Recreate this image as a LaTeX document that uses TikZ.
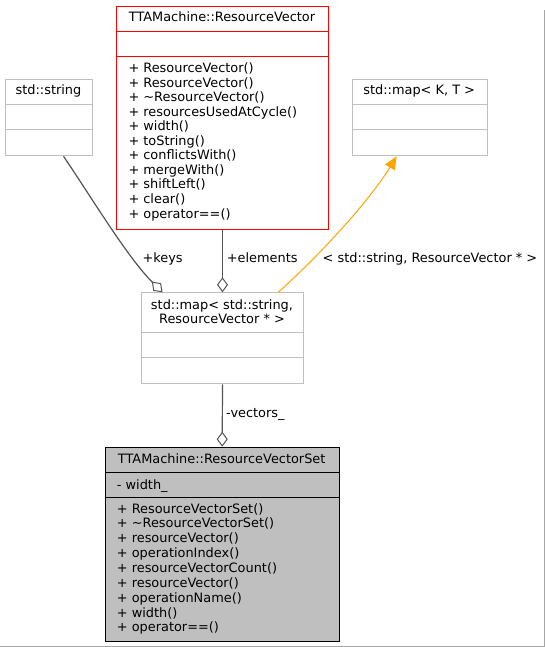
\documentclass[tikz,border=0pt]{standalone}
\usepackage{fontspec}
\setmainfont{DejaVu Sans}
\usetikzlibrary{arrows.meta,calc}
\definecolor{boxgray}{HTML}{BFBFBF}
\definecolor{edgegray}{HTML}{555555}
\definecolor{inherit}{HTML}{FFA500}
\tikzset{
  txt/.style={font=\fontsize{12.9}{14.6}\selectfont, inner sep=0pt},
  graybox/.style={draw=boxgray, line width=1pt, fill=white, inner sep=0pt, anchor=north west},
  sep/.style={draw=boxgray, line width=1pt},
  aggr/.style={draw=edgegray, line width=1.2pt, -{Diamond[open,fill=white,length=15pt,width=11pt,line width=1pt]}},
}

\begin{document}
\begin{tikzpicture}[x=1pt,y=-1pt]
  \useasboundingbox (0,0) rectangle (545,647);
  \fill[white] (0,0) rectangle (545,647);
  \draw[gray!70, line width=1pt] (544.5,10) -- (544.5,646.5) -- (0,646.5);

  % TTAMachine::ResourceVector
  \node[graybox, draw=red, minimum width=212.6pt, minimum height=223pt] (rv) at (115.7,5.7) {};
  \draw[red, line width=1pt] (115.7,31.7) -- (328.3,31.7);
  \draw[red, line width=1pt] (115.7,56.7) -- (328.3,56.7);
  \node[txt, anchor=base] (rvname) at (222,22) {TTAMachine::ResourceVector};
  \foreach \m [count=\i from 0] in {ResourceVector(), ResourceVector(),
      \textasciitilde ResourceVector(), resourcesUsedAtCycle(), width(), toString(),
      conflictsWith(), mergeWith(), shiftLeft(), clear(), operator==()}
    \node[txt, anchor=base west] (rvop\i) at (128.3,73+14.5*\i) {+ \m};

  % std::string
  \node[graybox, minimum width=87pt, minimum height=76.3pt] (str) at (5,79) {};
  \draw[sep] (5,104.3) -- (92,104.3);
  \draw[sep] (5,130) -- (92,130);
  \node[txt, anchor=base] (strname) at (48.5,95) {std::string};

  % std::map< K, T >
  \node[graybox, minimum width=135pt, minimum height=76.3pt] (stdmap) at (351.7,79) {};
  \draw[sep] (351.7,104.3) -- (486.7,104.3);
  \draw[sep] (351.7,130) -- (486.7,130);
  \node[txt, anchor=base] (stdmapname) at (419.2,95) {std::map< K, T >};

  % std::map< std::string, ResourceVector * >
  \node[graybox, minimum width=162.6pt, minimum height=91pt] (map) at (140.7,292.3) {};
  \draw[sep] (140.7,332.7) -- (303.3,332.7);
  \draw[sep] (140.7,357.7) -- (303.3,357.7);
  \node[txt, anchor=base] (mapnameA) at (222,309.5) {std::map< std::string,};
  \node[txt, anchor=base] (mapnameB) at (222,323.8) {ResourceVector * >};

  % TTAMachine::ResourceVectorSet
  \node[graybox, draw=black, fill=boxgray, minimum width=234pt, minimum height=194pt] (rvs) at (104.7,446.7) {};
  \draw[black, line width=1pt] (104.7,472.3) -- (338.7,472.3);
  \draw[black, line width=1pt] (104.7,497.3) -- (338.7,497.3);
  \node[txt, anchor=base] (rvsname) at (221.7,463.5) {TTAMachine::ResourceVectorSet};
  \node[txt, anchor=base west] (rvsattr) at (116.7,489.5) {- width\_};
  \foreach \m [count=\i from 0] in {ResourceVectorSet(), \textasciitilde ResourceVectorSet(),
      resourceVector(), operationIndex(), resourceVectorCount(), resourceVector(),
      operationName(), width(), operator==()}
    \node[txt, anchor=base west] (rvsop\i) at (116.7,513+14.87*\i) {+ \m};

  % connectors
  \draw[aggr] ([xshift=14.5pt]str.south) .. controls (90,195) and (127,257) .. ([xshift=-60pt]map.north);
  \node[txt, anchor=mid west] (keys) at (142.3,259.3) {+keys};
  \draw[aggr] (rv.south) -- (map.north);
  \node[txt, anchor=mid west] (elements) at (226.7,259.3) {+elements};
  \draw[inherit, line width=1pt, -{Triangle[length=13pt,width=11pt]}]
    ([xshift=55.7pt]map.north) .. controls (320,255) and (370,200) .. ([xshift=-23pt]stdmap.south);
  \node[txt, anchor=mid] (tmplargs) at (430,259.3) {< std::string, ResourceVector * >};
  \draw[aggr] (map.south) -- (rvs.north);
  \node[txt, anchor=mid west] (vectors) at (226,415) {-vectors\_};
\end{tikzpicture}
\end{document}
